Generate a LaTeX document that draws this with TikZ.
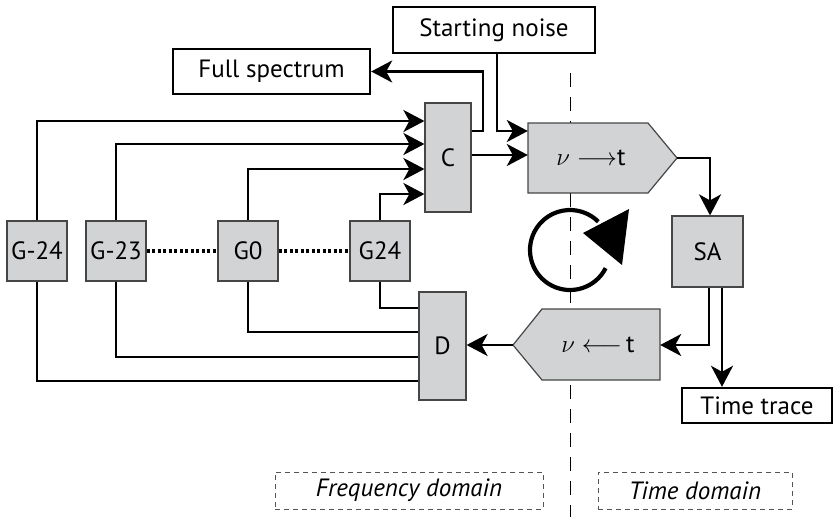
\documentclass[tikz,border=0pt]{standalone}
\usepackage{fontspec}
\setmainfont{PT Sans}
\usetikzlibrary{arrows.meta}
\definecolor{boxgray}{RGB}{209,211,212}
\definecolor{edgegray}{RGB}{70,70,70}
\definecolor{dashgray}{RGB}{85,85,85}
\begin{document}
\begin{tikzpicture}[x=1pt,y=-1pt,
  lbl/.style={font=\fontsize{25}{28}\selectfont},
  gbox/.style={lbl, draw=edgegray, line width=1.2pt, fill=boxgray, minimum width=60pt, minimum height=60pt, inner sep=0pt},
  wbox/.style={lbl, draw=black, line width=2.4pt, fill=white, inner sep=0pt},
  dbox/.style={lbl, draw=dashgray, line width=1pt, dash pattern=on 5pt off 4pt, inner sep=0pt},
  conn/.style={line width=2.6pt, black},
  arr/.style={conn, -{Stealth[length=21pt,width=22pt,inset=6pt]}},
  dotline/.style={line width=3.5pt, dash pattern=on 3pt off 2.5pt},
  pent/.style={draw=edgegray, line width=1.2pt, fill=boxgray}
]
\useasboundingbox (0,0) rectangle (834,517);

% centre dashed line
\draw[black, line width=1pt, dash pattern=on 14pt off 10pt] (570,73) -- (570,517);

% generator boxes
\node[gbox] (gm24) at (37,251) {G-24};
\node[gbox] (gm23) at (116,251) {G-23};
\node[gbox] (g0) at (248,251) {G0};
\node[gbox] (g24) at (380,251) {G24};

% combiner / divider
\node[gbox, minimum width=46pt, minimum height=109pt] (C) at (448,157.5) {C};
\node[gbox, minimum width=47pt, minimum height=108pt] (D) at (442.5,346) {D};
\node[gbox, minimum width=71pt, minimum height=71pt] (SA) at (707.5,251.5) {SA};

% white boxes
\node[wbox, minimum width=202pt, minimum height=46pt] (SN) at (494,30) {Starting noise};
\node[wbox, minimum width=197pt, minimum height=45pt] (FS) at (271.5,71.5) {Full spectrum};
\node[wbox, minimum width=150pt, minimum height=35pt] (TT) at (757,405.5) {Time trace};

% transform boxes
\path[pent] (528,123) -- (648,123) -- (677,158) -- (648,193) -- (528,193) -- cycle;
\node[minimum width=120pt, minimum height=70pt, inner sep=0pt] (ft) at (588,158) {};
\node[lbl] (ftlabel) at (591,158) {$\nu\longrightarrow$t};
\coordinate (fttip) at (677,158);

\path[pent] (542,309) -- (660,309) -- (660,380) -- (542,380) -- (513,345) -- cycle;
\node[minimum width=118pt, minimum height=71pt, inner sep=0pt] (tf) at (601,344.5) {};
\node[lbl] (tflabel) at (598,345) {$\nu\longleftarrow\,$t};
\coordinate (tftip) at (513,345);

% G -> C
\draw[arr] (gm24.north) |- (C.west |- 0,121);
\draw[arr] (gm23.north) |- (C.west |- 0,144);
\draw[arr] (g0.north) |- (C.west |- 0,169);
\draw[arr] (g24.north) |- (C.west |- 0,194);

% D -> G
\draw[conn] (g24.south) |- (D.west |- 0,308);
\draw[conn] (g0.south) |- (D.west |- 0,332);
\draw[conn] (gm23.south) |- (D.west |- 0,357);
\draw[conn] (gm24.south) |- (D.west |- 0,381);

% dotted
\draw[dotline] (gm23.east) -- (g0.west);
\draw[dotline] (g0.east) -- (g24.west);

% C outputs
\draw[arr] (C.east |- 0,155) -- (ft.west |- 0,155);
\draw[arr] (C.east |- 0,131) -- (483,131) |- (FS.east);
\draw[arr] (SN.south -| 497,0) |- (ft.west |- 0,131);

% loop
\draw[arr] (fttip) -| (SA.north -| 710,0);
\draw[arr] (SA.south -| 709,0) |- (tf.east |- 0,345);
\draw[arr] (SA.south -| 722,0) -- (TT.north -| 722,0);
\draw[arr] (tftip) -- (D.east |- tftip);

% circular arrow
\begin{scope}[shift={(570,250)}, x=1pt, y=1pt]
  \draw[line width=4.2pt] (-27:40) arc[start angle=-27, end angle=-315, radius=40];
\end{scope}
\fill (629,209) -- (583,233) -- (622,265) -- cycle;

% domain labels
\node[dbox, minimum width=268pt, minimum height=37pt] (fd) at (409,490.5) {\itshape Frequency domain};
\node[dbox, minimum width=194pt, minimum height=37pt] (td) at (695,490.5) {\itshape Time domain};
\end{tikzpicture}
\end{document}
